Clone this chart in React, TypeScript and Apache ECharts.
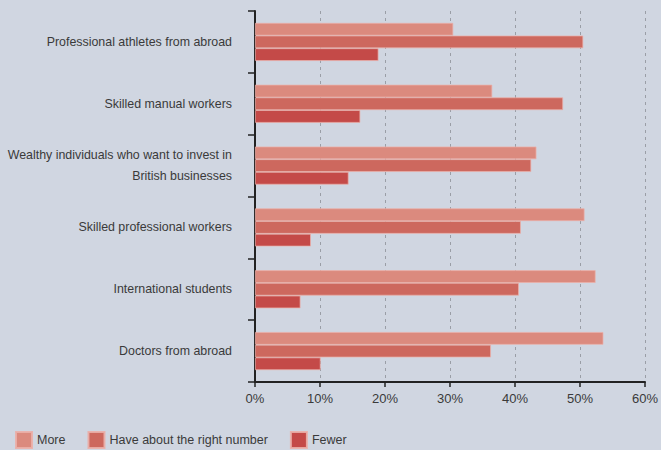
import React, { useEffect, useRef } from "react";
import * as echarts from "echarts";

const categories = [
  "Professional athletes from abroad",
  "Skilled manual workers",
  "Wealthy individuals who want to invest in\nBritish businesses",
  "Skilled professional workers",
  "International students",
  "Doctors from abroad",
];
const seriesNames = ["More", "Have about the right number", "Fewer"];
const moreValues = [30.5, 36.5, 43.3, 50.7, 52.4, 53.6];
const rightValues = [50.5, 47.4, 42.5, 40.9, 40.6, 36.3];
const fewerValues = [19.0, 16.2, 14.4, 8.6, 7.0, 10.1];
const xTicks = [0, 10, 20, 30, 40, 50, 60];
const colors = ["#db8a7e", "#cd685e", "#c44a48"];

export default function App() {
  const ref = useRef<HTMLDivElement>(null);
  useEffect(() => {
    if (!ref.current) return;
    const chart = echarts.init(ref.current, null, { renderer: "svg" });
    const values = [moreValues, rightValues, fewerValues];
    chart.setOption({
      animation: false,
      backgroundColor: "#d0d6e1",
      textStyle: { fontFamily: "Liberation Sans, Arial, sans-serif" },
      grid: { left: 255, right: 13, top: 11, bottom: 68, containLabel: false },
      legend: {
        left: 15,
        bottom: 1,
        padding: 0,
        itemWidth: 16,
        itemHeight: 16,
        itemGap: 22,
        icon: "rect",
        textStyle: { fontSize: 12.5, color: "#3a3a3a", fontFamily: "Liberation Sans, Arial, sans-serif" },
        data: seriesNames,
      },
      xAxis: {
        type: "value",
        min: xTicks[0],
        max: xTicks[xTicks.length - 1],
        interval: 10,
        axisLine: { show: true, lineStyle: { color: "#222", width: 2 } },
        axisTick: { show: true, length: 5, lineStyle: { color: "#222", width: 1.5 } },
        axisLabel: {
          formatter: (v: number) => v + "%",
          fontSize: 13,
          color: "#3a3a3a",
          margin: 10,
        },
        splitLine: { show: true, lineStyle: { color: "#9a9ea6", type: [3, 4], width: 1 } },
      },
      yAxis: {
        type: "category",
        data: categories,
        inverse: true,
        axisLine: { show: true, lineStyle: { color: "#222", width: 2 } },
        axisTick: { show: true, length: 7, lineStyle: { color: "#222", width: 1.5 } },
        axisLabel: {
          fontSize: 12.4,
          color: "#3a3a3a",
          margin: 23,
          lineHeight: 21,
          align: "right",
        },
        splitLine: { show: false },
      },
      series: seriesNames.map((name, i) => ({
        name,
        type: "bar",
        data: values[i],
        barWidth: 12.7,
        barGap: "0%",
        itemStyle: {
          color: colors[i],
          borderColor: "rgba(235,175,168,0.9)",
          borderWidth: 0.8,
        },
      })),
    });
    return () => chart.dispose();
  }, []);
  return (
    <div
      ref={ref}
      style={{ position: "fixed", left: 0, top: 0, width: 661, height: 450 }}
    />
  );
}
